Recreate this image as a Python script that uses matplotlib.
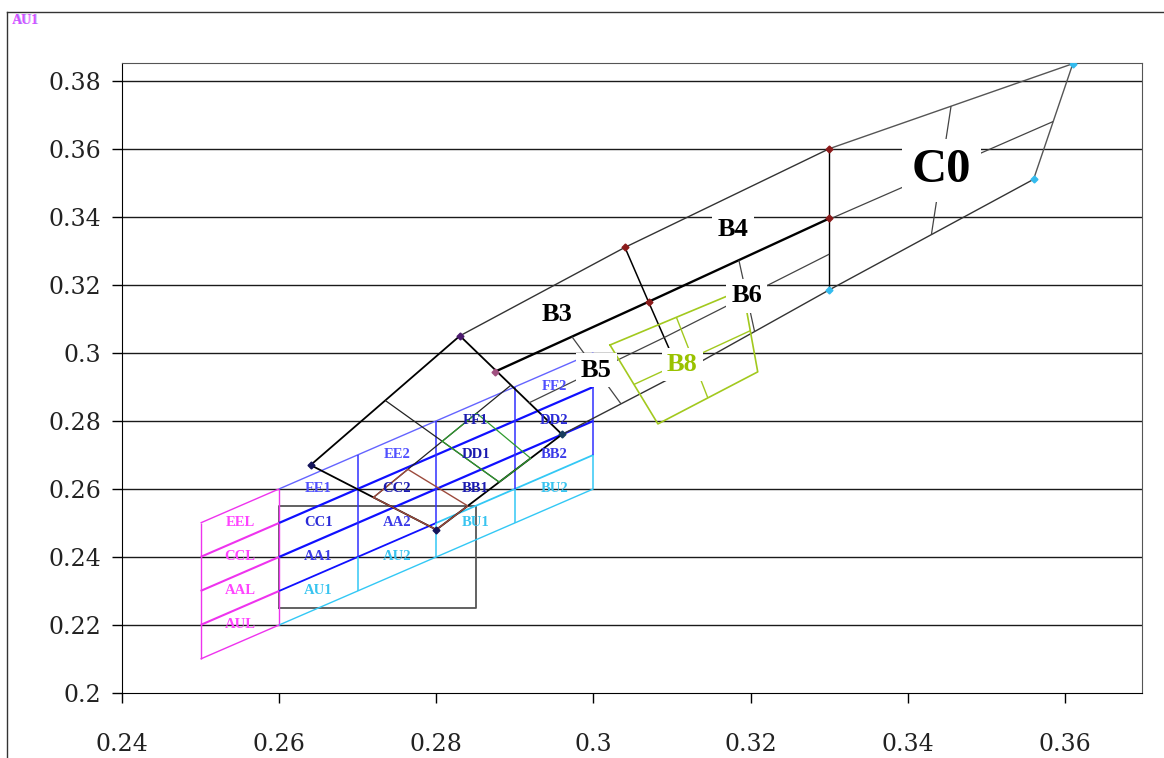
import matplotlib.pyplot as plt
import numpy as np
from matplotlib.lines import Line2D

# ---- bin grid: boundary lines y = x + c, columns at fixed x ----
grid_offsets = [0.0, -0.01, -0.02, -0.03, -0.04]
grid_cols = [0.26, 0.27, 0.28, 0.29, 0.30]
left_cols = [0.25, 0.26]
bin_names = [['EE1', 'EE2', 'FF1', 'FF2'],
             ['CC1', 'CC2', 'DD1', 'DD2'],
             ['AA1', 'AA2', 'BB1', 'BB2'],
             ['AU1', 'AU2', 'BU1', 'BU2']]
left_names = ['EEL', 'CCL', 'AAL', 'AUL']

# black box
rect_x = [0.26, 0.285]
rect_y = [0.225, 0.255]

# quadrangle corners (x, y)
P1 = (0.264, 0.267)
P2 = (0.283, 0.305)
P3 = (0.296, 0.276)
P4 = (0.280, 0.248)
T1 = (0.304, 0.331)
T2 = (0.330, 0.360)
T3 = (0.361, 0.385)
L1 = (0.2875, 0.2945)
R1 = (0.307, 0.315)
R2 = (0.330, 0.3395)
S1 = (0.311, 0.294)
S2 = (0.330, 0.3185)
S3 = (0.356, 0.351)
b8_x = [0.3021, 0.3190, 0.3209, 0.3082]
b8_y = [0.3023, 0.3186, 0.2944, 0.2791]

x_ticks = [0.24, 0.26, 0.28, 0.30, 0.32, 0.34, 0.36]
y_ticks = [0.20, 0.22, 0.24, 0.26, 0.28, 0.30, 0.32, 0.34, 0.36, 0.38]

SERIF = 'Liberation Serif'


def mid(a, b, t=0.5):
    return (a[0] + (b[0] - a[0]) * t, a[1] + (b[1] - a[1]) * t)


def seg(ax, a, b, **kw):
    ax.plot([a[0], b[0]], [a[1], b[1]], solid_capstyle='butt', **kw)


def poly(ax, pts, **kw):
    xs = [p[0] for p in pts] + [pts[0][0]]
    ys = [p[1] for p in pts] + [pts[0][1]]
    ax.plot(xs, ys, **kw)


def midlines(ax, q, **kw):
    a, b, c, d = q
    seg(ax, mid(a, b), mid(d, c), **kw)
    seg(ax, mid(a, d), mid(b, c), **kw)


def center(q):
    return (np.mean([p[0] for p in q]), np.mean([p[1] for p in q]))


fig = plt.figure(figsize=(11.64, 7.58), dpi=100)
ax = fig.add_axes([122 / 1164, 1 - 693 / 758, 1020 / 1164, 630 / 758])
ax.set_xlim(0.24, 0.3698)
ax.set_ylim(0.2, 0.3852)

# outer chart frame
fig.add_artist(Line2D([7 / 1164, 7 / 1164], [0, 1 - 12 / 758], color='#333333', lw=1))
fig.add_artist(Line2D([7 / 1164, 1], [1 - 12 / 758, 1 - 12 / 758], color='#333333', lw=1))
fig.text(12 / 1164, 1 - 21 / 758, 'AU1', color='#ff44ff', fontsize=10, fontweight='bold',
         family=SERIF, va='center')
fig.text(13 / 1164, 1 - 21 / 758, 'AU1', color='#7777ff', fontsize=10, fontweight='bold',
         family=SERIF, va='center', alpha=0.5)

# gridlines
for yv in y_ticks[1:]:
    ax.axhline(yv, color='#1a1a1a', lw=1.0, zorder=0.5)

# ---- magenta bins ----
mag = '#ee33ee'
for j, c in enumerate(grid_offsets):
    lw = 1.5 if j in (1, 2, 3) else 1.0
    seg(ax, (left_cols[0], left_cols[0] + c), (left_cols[1], left_cols[1] + c),
        color=mag, lw=lw, zorder=2)
seg(ax, (left_cols[0], left_cols[0] + grid_offsets[0]), (left_cols[0], left_cols[0] + grid_offsets[-1]),
    color=mag, lw=1.0, zorder=2)
seg(ax, (left_cols[1], left_cols[1] + grid_offsets[0]), (left_cols[1], left_cols[1] + grid_offsets[-1]),
    color=mag, lw=1.0, zorder=2)
for j, name in enumerate(left_names):
    xc = (left_cols[0] + left_cols[1]) / 2
    yc = xc + (grid_offsets[j] + grid_offsets[j + 1]) / 2
    ax.text(xc, yc, name, color='#ff44ff', fontsize=10.5, fontweight='bold', family=SERIF,
            ha='center', va='center', zorder=4)

# black box
ax.plot([rect_x[0], rect_x[1], rect_x[1], rect_x[0], rect_x[0]],
        [rect_y[0], rect_y[0], rect_y[1], rect_y[1], rect_y[0]],
        color='#555555', lw=1.3, zorder=1.5)

# ---- blue / cyan bins ----
blue = '#1010ff'
cyan = '#33c8f5'
x0, xm, x1 = grid_cols[0], grid_cols[2], grid_cols[-1]
for j, c in enumerate(grid_offsets):
    if j == 0:
        seg(ax, (x0, x0 + c), (x1, x1 + c), color='#6464ff', lw=1.0, zorder=2)
    elif j in (1, 2):
        seg(ax, (x0, x0 + c), (x1, x1 + c), color=blue, lw=1.6, zorder=2)
    elif j == 3:
        seg(ax, (x0, x0 + c), (xm, xm + c), color=blue, lw=1.3, zorder=2)
        seg(ax, (xm, xm + c), (x1, x1 + c), color=cyan, lw=1.3, zorder=2)
    else:
        seg(ax, (x0, x0 + c), (x1, x1 + c), color=cyan, lw=1.0, zorder=2)
for xv in grid_cols[1:]:
    seg(ax, (xv, xv + grid_offsets[0]), (xv, xv + grid_offsets[3]), color='#3030ff', lw=1.1, zorder=2)
    seg(ax, (xv, xv + grid_offsets[3]), (xv, xv + grid_offsets[4]), color=cyan, lw=1.1, zorder=2)

row_colors = ['#5050ff', '#2a2ad8', '#3a3ae8', '#38c4f0']
dark_cells = ['FF1', 'DD1', 'CC2', 'BB1']
for j, row in enumerate(bin_names):
    for i, name in enumerate(row):
        xc = (grid_cols[i] + grid_cols[i + 1]) / 2
        yc = xc + (grid_offsets[j] + grid_offsets[j + 1]) / 2
        col = '#1a1ab0' if name in dark_cells else row_colors[j]
        ax.text(xc, yc, name, color=col, fontsize=10.5, fontweight='bold', family=SERIF,
                ha='center', va='center', zorder=4)

# ---- lower quadrangle with sub-bins ----
Q0 = [P1, P2, P3, P4]
poly(ax, Q0, color='black', lw=1.3, zorder=3)
midlines(ax, Q0, color='#222222', lw=0.9, zorder=3)
M14 = mid(P1, P4)
M43 = mid(P4, P3)
M23 = mid(P2, P3)
C = mid(mid(P1, P2), M43)
poly(ax, [M14, mid(M14, C), mid(P4, P3, 0.25), P4], color='#9c4a3c', lw=1.0, zorder=3.2)
poly(ax, [C, mid(C, M23), mid(P4, P3, 0.75), M43], color='#2e9a2e', lw=0.9, zorder=3.2)

# ---- upper quadrangles B3..B6, C0 ----
edge = '#333333'
ax.plot([P2[0], T1[0], T2[0]], [P2[1], T1[1], T2[1]], color=edge, lw=1.0, zorder=3)
seg(ax, T2, T3, color='#555555', lw=1.0, zorder=3)
seg(ax, S3, T3, color='#555555', lw=1.0, zorder=3)
ax.plot([P3[0], S1[0], S2[0], S3[0]], [P3[1], S1[1], S2[1], S3[1]], color=edge, lw=1.0, zorder=3)
ax.plot([L1[0], R1[0], R2[0]], [L1[1], R1[1], R2[1]], color='black', lw=1.7, zorder=3)
ax.plot([T1[0], R1[0], S1[0]], [T1[1], R1[1], S1[1]], color='black', lw=1.1, zorder=3)
ax.plot([T2[0], R2[0], S2[0]], [T2[1], R2[1], S2[1]], color='black', lw=1.0, zorder=3)

B3 = [P2, T1, R1, L1]
B4 = [T1, T2, R2, R1]
B5 = [L1, R1, S1, P3]
B6 = [R1, R2, S2, S1]
C0 = [T2, T3, S3, S2]
for q in (B5, B6, C0):
    midlines(ax, q, color='#444444', lw=0.9, zorder=3)

B8 = list(zip(b8_x, b8_y))
poly(ax, B8, color='#a2c91e', lw=1.2, zorder=3)
midlines(ax, B8, color='#a2c91e', lw=1.0, zorder=3)

# vertex markers
marker_pts = [P1, P2, P3, P4, L1, T1, R1, T2, R2, S2, S3, T3]
marker_cols = ['#14145a', '#4b1a6e', '#173d5e', '#14145a', '#a05080', '#8b1a1a',
               '#8b1a1a', '#8b1a1a', '#8b1a1a', '#33bbee', '#33bbee', '#33bbee']
for p, mc in zip(marker_pts, marker_cols):
    ax.plot(p[0], p[1], marker='D', ms=3.5, color=mc, zorder=4)

box = dict(boxstyle='square,pad=0.2', facecolor='white', edgecolor='none')
for name, q in [('B3', B3), ('B4', B4), ('B5', B5), ('B6', B6)]:
    cx, cy = center(q)
    ax.text(cx, cy, name, fontsize=19, fontweight='bold', family=SERIF, color='black',
            ha='center', va='center', bbox=box, zorder=6)
cx, cy = center(C0)
ax.text(cx, cy, 'C0', fontsize=35, fontweight='bold', family=SERIF, color='black',
        ha='center', va='center', bbox=box, zorder=6)
cx, cy = center(B8)
ax.annotate('B8', (cx, cy), xytext=(-7, -5), textcoords='offset points',
            fontsize=19, fontweight='bold', family=SERIF, color='#99c200',
            ha='center', va='center', bbox=box, zorder=6)

# axes styling
ax.set_xticks(x_ticks)
ax.set_xticklabels([f'{v:g}' for v in x_ticks])
ax.set_yticks(y_ticks)
ax.set_yticklabels([f'{v:g}' for v in y_ticks])
ax.tick_params(axis='y', direction='out', length=7, width=1, pad=8, labelsize=17)
ax.tick_params(axis='x', direction='out', length=7, width=1, pad=22, labelsize=17)
for lab in ax.get_xticklabels() + ax.get_yticklabels():
    lab.set_family('DejaVu Serif')
    lab.set_color('#222222')
for s in ('left', 'bottom'):
    ax.spines[s].set_color('black')
for s in ('top', 'right'):
    ax.spines[s].set_color('#555555')

fig.savefig('out.png', dpi=100)
